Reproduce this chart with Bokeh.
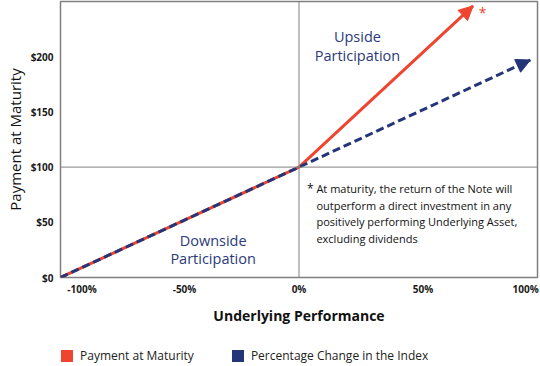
from bokeh.plotting import figure
from bokeh.layouts import column
from bokeh.models import Span, Arrow, NormalHead, Label, Legend, LegendItem, FixedTicker
from bokeh.embed import file_html
from bokeh.resources import INLINE

# ---------------- data ----------------
perf_payment = [-100, 0, 73]      # Underlying performance (%) - Payment at Maturity
payment_values = [0, 100, 246]    # Payment at Maturity ($)
perf_index = [-100, 0, 97]        # Underlying performance (%) - Percentage change in index
index_values = [0, 100, 197]      # Index-equivalent value ($)

x_tick_labels = ["-100%", "-50%", "0%", "50%", "100%"]
y_ticks = [0, 50, 100, 150, 200]
y_tick_labels = ["$0", "$50", "$100", "$150", "$200"]

series_names = ["Payment at Maturity", "Percentage Change in the Index"]

# ---------------- layout / style ----------------
FONT = "Open Sans"
RED = "#ef4530"
BLUE = "#24357a"
NAVY = "#2b3a7a"
GRID = "#808080"
x_label_pos = [-91, -48, 0, 52, 95]  # where the x tick labels sit

p = figure(width=540, height=340, x_range=(-100, 100), y_range=(0, 250),
           output_backend="svg", toolbar_location=None,
           min_border_left=60, min_border_right=3, min_border_top=1,
           min_border_bottom=63)
p.grid.visible = False
p.outline_line_color = GRID
p.outline_line_width = 1.5
p.background_fill_color = "white"

for ax in (p.xaxis, p.yaxis):
    ax.axis_line_color = None
    ax.major_tick_line_color = None
    ax.minor_tick_line_color = None
    ax.major_tick_in = 0
    ax.major_tick_out = 0
    ax.minor_tick_in = 0
    ax.minor_tick_out = 0
    ax.major_label_text_font = FONT
    ax.major_label_text_font_style = "bold"
    ax.major_label_text_font_size = "10px"
    ax.major_label_text_color = "#1a1a1a"
    ax.axis_label_text_font = FONT
    ax.axis_label_text_color = "#111111"

p.xaxis.ticker = FixedTicker(ticks=x_label_pos)
p.xaxis.major_label_overrides = dict(zip(x_label_pos, x_tick_labels))
p.xaxis.major_label_standoff = 4
p.xaxis.axis_label = "Underlying Performance"
p.xaxis.axis_label_text_font_size = "14px"
p.xaxis.axis_label_text_font_style = "bold"
p.xaxis.axis_label_standoff = 7

p.yaxis.ticker = FixedTicker(ticks=y_ticks)
p.yaxis.major_label_overrides = dict(zip(y_ticks, y_tick_labels))
p.yaxis.major_label_standoff = 7
p.yaxis.axis_label = "Payment at Maturity"
p.yaxis.axis_label_text_font_size = "15px"
p.yaxis.axis_label_text_font_style = "normal"
p.yaxis.axis_label_standoff = 3

# reference lines
p.add_layout(Span(location=0, dimension="height", line_color=GRID, line_width=1))
p.add_layout(Span(location=100, dimension="width", line_color=GRID, line_width=1))

# series lines
p.line(perf_payment, payment_values, line_color=RED, line_width=3)
p.line(perf_index, index_values, line_color=BLUE, line_width=3, line_dash="8 4")

# arrow heads
p.add_layout(Arrow(end=NormalHead(size=14, fill_color=RED, line_color=RED, line_width=1),
                   x_start=perf_payment[-2], y_start=payment_values[-2],
                   x_end=perf_payment[-1], y_end=payment_values[-1], line_alpha=0))
p.add_layout(Arrow(end=NormalHead(size=14, fill_color=BLUE, line_color=BLUE, line_width=1),
                   x_start=perf_index[-2], y_start=index_values[-2],
                   x_end=perf_index[-1], y_end=index_values[-1], line_alpha=0))

# annotations
def note(x, y, text, size, color, align="center"):
    p.add_layout(Label(x=x, y=y, text=text, text_align=align, text_baseline="middle",
                       text_font=FONT, text_font_size=size, text_color=color))

note(77, 240, "*", "14px", RED)
note(24.5, 218, "Upside", "14.5px", NAVY)
note(24.5, 201, "Participation", "14.5px", NAVY)
note(-36, 33.5, "Downside", "14.5px", NAVY)
note(-36, 17.2, "Participation", "14.5px", NAVY)
note(4.7, 80.5, "*", "12px", "#111111")
p.add_layout(Label(x=7.3, y=58,
                   text="At maturity, the return of the Note will\noutperform a direct investment in any\npositively performing Underlying Asset,\nexcluding dividends",
                   text_align="left", text_baseline="middle", text_font=FONT,
                   text_font_size="11px", text_color="#111111", text_line_height=1.11))

# ---------------- legend strip ----------------
NAN = float("nan")
leg = figure(width=540, height=26, output_backend="svg", toolbar_location=None,
             min_border_left=60, min_border_right=3, min_border_top=0, min_border_bottom=0,
             x_range=(0, 1), y_range=(0, 1),
             x_axis_location=None, y_axis_location=None)
leg.grid.visible = False
leg.outline_line_color = None
r1 = leg.quad(left=[NAN], right=[NAN], top=[NAN], bottom=[NAN], fill_color=RED, line_color=None)
r2 = leg.quad(left=[NAN], right=[NAN], top=[NAN], bottom=[NAN], fill_color=BLUE, line_color=None)
legend = Legend(items=[LegendItem(label=series_names[0], renderers=[r1]),
                       LegendItem(label=series_names[1], renderers=[r2])],
                location=(-1, 2), orientation="horizontal",
                glyph_width=15, glyph_height=15, label_height=15,
                label_standoff=6, spacing=36, padding=0, margin=0,
                border_line_color=None, background_fill_alpha=0,
                label_text_font=FONT, label_text_font_size="12px",
                label_text_color="#222222")
leg.add_layout(legend)

layout = column(p, leg, spacing=0)
open("out.html", "w").write(file_html(layout, INLINE))
